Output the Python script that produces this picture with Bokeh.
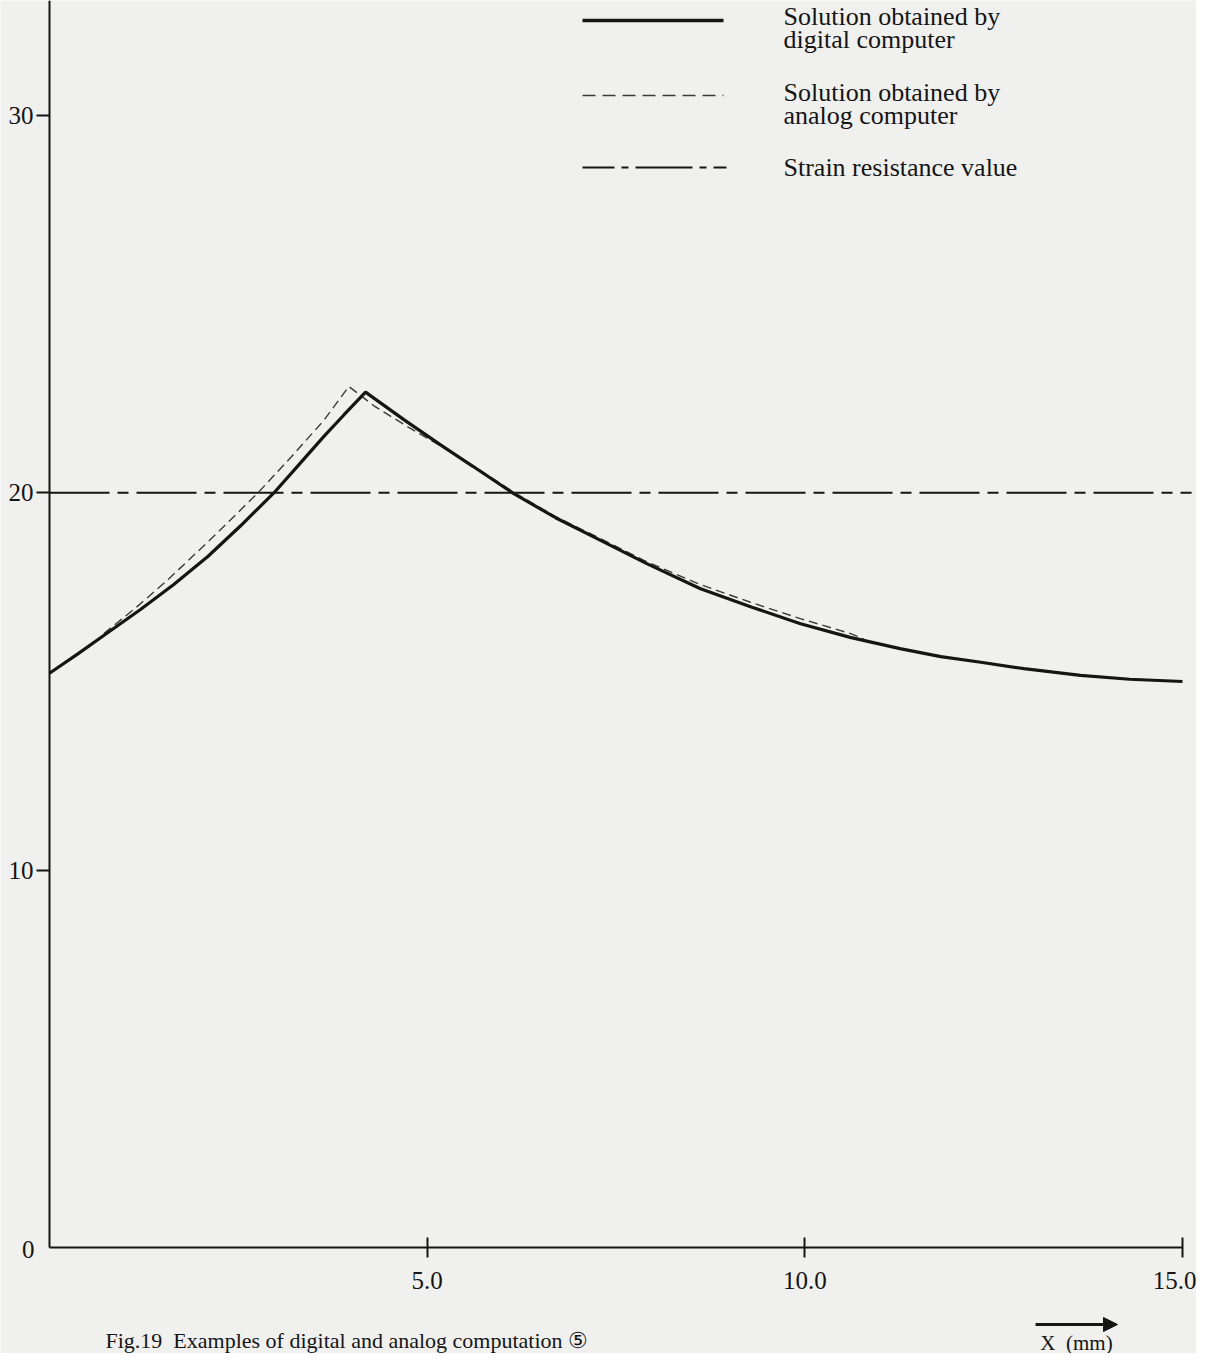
from bokeh.plotting import figure
from bokeh.models import Range1d, FixedTicker, NumeralTickFormatter, Label, Arrow, NormalHead
from bokeh.embed import file_html
from bokeh.resources import INLINE

# ---- data ----
digital_x = [0.0, 0.38, 0.76, 1.2, 1.645, 2.1, 2.527, 2.967, 3.3, 3.63, 3.9, 4.184,
             4.691, 5.177, 5.6, 6.147, 6.7, 7.296, 7.9, 8.619, 9.3, 9.943, 10.6, 11.26,
             11.8, 12.33, 12.9, 13.65, 14.3, 15.0]
digital_y = [15.22, 15.74, 16.28, 16.9, 17.57, 18.32, 19.12, 19.99, 20.74, 21.49, 22.07, 22.67,
             21.94, 21.27, 20.71, 19.98, 19.34, 18.74, 18.13, 17.46, 16.97, 16.53, 16.17, 15.87,
             15.66, 15.51, 15.34, 15.16, 15.06, 15.0]

analog_x = [0.72, 1.14, 1.558, 2.15, 2.75, 3.2, 3.632, 3.963, 4.3, 4.75, 5.18, 5.6,
            6.15, 6.7, 7.3, 7.869, 8.6, 9.281, 9.95, 10.605, 10.777]
analog_y = [16.27, 16.95, 17.68, 18.8, 19.98, 20.95, 21.92, 22.82, 22.3, 21.74, 21.24, 20.73,
            20.01, 19.37, 18.78, 18.21, 17.58, 17.10, 16.66, 16.27, 16.13]

strain_x = [0.0, 15.12]
strain_y = [20.0, 20.0]

x_ticks = [5, 10, 15]
y_ticks = [10, 20, 30]

legend_labels = [["Solution obtained by", "digital computer"],
                 ["Solution obtained by", "analog computer"],
                 ["Strain resistance value"]]
caption = "Fig.19\u00a0\u00a0Examples of digital and analog computation \u2464"
x_label = "X\u00a0\u00a0(mm)"

# ---- layout helpers (canvas pixel -> data) ----
W, H = 1196, 1353
X0, Y0 = 49, 1247          # pixel position of the origin
XS = 1133 / 15.0           # px per x unit
YS = 1132 / 30.0           # px per y unit
def px(p):
    return (p - X0) / XS
def py(p):
    return (Y0 - p) / YS

FONT = "Liberation Serif"
BG = "#f0f0ef"
INK = "#151515"

p = figure(width=W, height=H, output_backend="svg", toolbar_location=None,
           x_range=Range1d(px(0), px(W)), y_range=Range1d(py(H), py(0)),
           min_border=0, min_border_left=0, min_border_right=0, min_border_top=0, min_border_bottom=0,
           background_fill_color=BG, border_fill_color=BG, outline_line_color=None)
p.grid.visible = False

# axes (fixed at the origin, inside the frame)
for ax in (p.xaxis[0], p.yaxis[0]):
    ax.fixed_location = 0
    ax.axis_line_width = 2
    ax.axis_line_color = INK
    ax.major_tick_line_width = 2
    ax.major_tick_line_color = INK
    ax.minor_tick_line_color = None
    ax.major_label_text_font = FONT
    ax.major_label_text_font_size = "25px"
    ax.major_label_text_color = INK

p.xaxis.ticker = FixedTicker(ticks=x_ticks)
p.xaxis.formatter = NumeralTickFormatter(format="0.0")
p.xaxis.bounds = (0, 15)
p.xaxis.major_tick_in = 10
p.xaxis.major_tick_out = 10
p.xaxis.major_label_standoff = 14

p.yaxis.ticker = FixedTicker(ticks=y_ticks)
p.yaxis.bounds = (0, py(0))
p.yaxis.major_tick_in = 0
p.yaxis.major_tick_out = 13
p.yaxis.major_label_standoff = 3

# series
p.line(strain_x, strain_y, line_color=INK, line_width=2, line_dash="60 8 11 8")
p.line(analog_x, analog_y, line_color="#3a3a3a", line_width=1.4, line_dash="9 5")
p.line(digital_x, digital_y, line_color=INK, line_width=3.2)

# legend (drawn by hand)
p.line([px(582), px(723)], [py(20), py(20)], line_color=INK, line_width=3.4)
p.line([px(582), px(723)], [py(95), py(95)], line_color="#3a3a3a", line_width=1.4, line_dash="13 7")
p.line([px(582), px(726)], [py(167), py(167)], line_color=INK, line_width=2,
       line_dash="32 7 7 7 57 7 7 7")

rows_y = [[16, 39], [92, 115], [167]]
for lines, ys in zip(legend_labels, rows_y):
    for t, yy in zip(lines, ys):
        p.add_layout(Label(x=px(783), y=py(yy), text=t, text_font=FONT, text_font_size="26px",
                           text_color=INK, text_baseline="middle", text_align="left"))

# "0" label at origin
p.add_layout(Label(x=px(34), y=py(1249), text="0", text_font=FONT, text_font_size="25px",
                   text_color=INK, text_baseline="middle", text_align="right"))

# x axis arrow and label
p.add_layout(Arrow(x_start=px(1035), y_start=py(1324), x_end=px(1117), y_end=py(1324),
                   line_width=3, line_color=INK,
                   end=NormalHead(size=14, fill_color=INK, line_color=INK)))
p.add_layout(Label(x=px(1076), y=py(1342), text=x_label, text_font=FONT, text_font_size="21px",
                   text_color=INK, text_baseline="middle", text_align="center"))

# caption
p.add_layout(Label(x=px(105), y=py(1340), text=caption, text_font=FONT, text_font_size="22px",
                   text_color=INK, text_baseline="middle", text_align="left"))

open("out.html", "w").write(file_html(p, INLINE))
